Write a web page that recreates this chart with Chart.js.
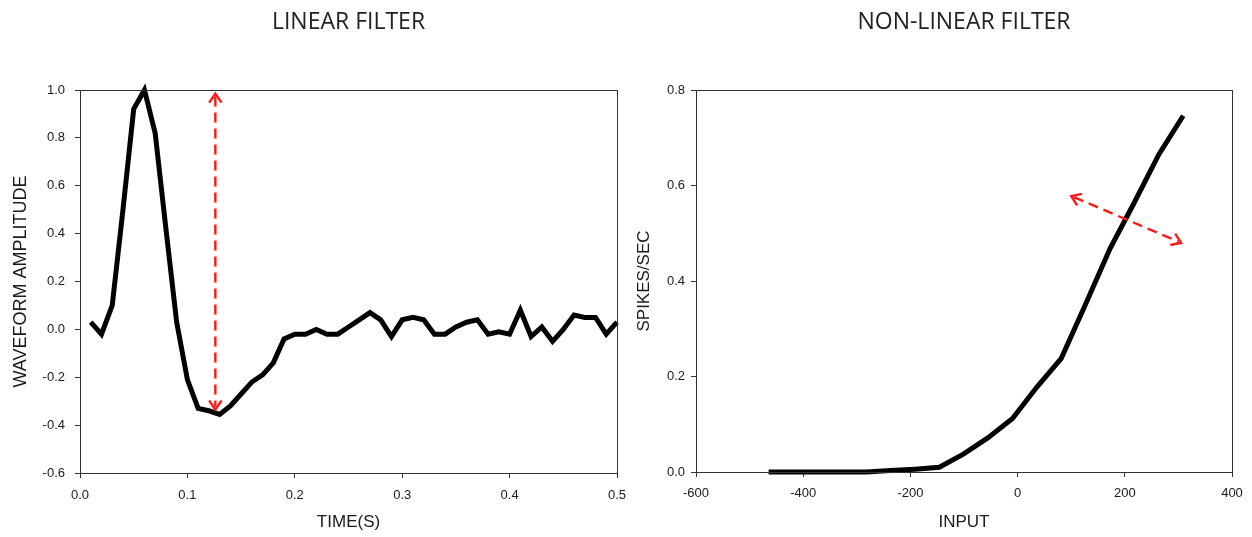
<!DOCTYPE html>
<html>
<head>
<meta charset="utf-8">
<script src="https://cdn.jsdelivr.net/npm/chart.js@4.4.1/dist/chart.umd.min.js"></script>
<style>
  html, body { margin: 0; padding: 0; background: #fff; }
  #wrap { position: relative; width: 1252px; height: 537px; overflow: hidden; }
  canvas { position: absolute; top: 0; }
</style>
</head>
<body>
<div id="wrap">
  <canvas id="linear" width="640" height="537" style="left:0"></canvas>
  <canvas id="nonlinear" width="626" height="537" style="left:626px"></canvas>
</div>
<script>
// linear filter: waveform amplitude vs time (s)
var timeS = [0.01, 0.02, 0.03, 0.04, 0.05, 0.06, 0.07, 0.08, 0.09, 0.10,
             0.11, 0.12, 0.13, 0.14, 0.15, 0.16, 0.17, 0.18, 0.19, 0.20,
             0.21, 0.22, 0.23, 0.24, 0.25, 0.26, 0.27, 0.28, 0.29, 0.30,
             0.31, 0.32, 0.33, 0.34, 0.35, 0.36, 0.37, 0.38, 0.39, 0.40,
             0.41, 0.42, 0.43, 0.44, 0.45, 0.46, 0.47, 0.48, 0.49, 0.50];
var amplitude = [0.03, -0.02, 0.10, 0.50, 0.92, 1.00, 0.82, 0.42, 0.03, -0.21,
                 -0.33, -0.34, -0.355, -0.32, -0.27, -0.22, -0.19, -0.14, -0.04, -0.02,
                 -0.02, 0.00, -0.02, -0.02, 0.01, 0.04, 0.07, 0.04, -0.03, 0.04,
                 0.05, 0.04, -0.02, -0.02, 0.01, 0.03, 0.04, -0.02, -0.01, -0.02,
                 0.08, -0.03, 0.01, -0.05, 0.00, 0.06, 0.05, 0.05, -0.02, 0.03];
var timeTicks = [0, 0.1, 0.2, 0.3, 0.4, 0.5];
var ampTicks = [-0.6, -0.4, -0.2, 0, 0.2, 0.4, 0.6, 0.8, 1.0];
var ampArrow = [[0.126, 0.985], [0.126, -0.335]];

// non-linear filter: spikes/sec vs input
var inputVals = [-464.5, -419, -373.5, -328, -282.5, -237, -191.5, -146, -100.5,
                 -55, -9.5, 36, 81.5, 127, 172.5, 218, 263.5, 309];
var spikeRate = [0.0, 0.0, 0.0, 0.0, 0.0, 0.003, 0.006, 0.01, 0.038,
                 0.072, 0.112, 0.178, 0.238, 0.352, 0.468, 0.565, 0.665, 0.746];
var inputTicks = [-600, -400, -200, 0, 200, 400];
var rateTicks = [0, 0.2, 0.4, 0.6, 0.8];
var rateArrow = [[100, 0.578], [305, 0.48]];

var tickFont = { family: 'Liberation Sans, Arial, sans-serif', size: 13 };
var titleFont = { family: 'Open Sans, sans-serif', size: 23, weight: 'normal' };

function points(xs, ys) {
    return xs.map(function (x, i) { return { x: x, y: ys[i] }; });
}

var frame = {
    id: 'frame',
    afterDraw: function (chart) {
        var a = chart.chartArea, ctx = chart.ctx;
        ctx.save();
        ctx.strokeStyle = '#333';
        ctx.lineWidth = 1;
        ctx.strokeRect(a.left + 0.5, a.top + 0.5, a.right - a.left, a.bottom - a.top);
        ctx.restore();
    }
};

function head(ctx, x, y, ang) {
    var len = 11, spread = 0.6;
    ctx.beginPath();
    ctx.moveTo(x - len * Math.cos(ang - spread), y - len * Math.sin(ang - spread));
    ctx.lineTo(x, y);
    ctx.lineTo(x - len * Math.cos(ang + spread), y - len * Math.sin(ang + spread));
    ctx.stroke();
}

var arrow = {
    id: 'arrow',
    afterDatasetsDraw: function (chart, args, opts) {
        var sx = chart.scales.x, sy = chart.scales.y, ctx = chart.ctx;
        var x1 = sx.getPixelForValue(opts.from[0]), y1 = sy.getPixelForValue(opts.from[1]);
        var x2 = sx.getPixelForValue(opts.to[0]), y2 = sy.getPixelForValue(opts.to[1]);
        var ang = Math.atan2(y2 - y1, x2 - x1);
        ctx.save();
        ctx.strokeStyle = '#ff1a1a';
        ctx.lineWidth = 2.4;
        ctx.setLineDash([10, 6]);
        ctx.beginPath();
        ctx.moveTo(x1 + 3 * Math.cos(ang), y1 + 3 * Math.sin(ang));
        ctx.lineTo(x2 - 3 * Math.cos(ang), y2 - 3 * Math.sin(ang));
        ctx.stroke();
        ctx.setLineDash([]);
        head(ctx, x2, y2, ang);
        head(ctx, x1, y1, ang + Math.PI);
        ctx.restore();
    }
};

function axis(ticks, min, max, fmt, title, titleSize, fit, tickPad, titlePad) {
    return {
        type: 'linear',
        min: min,
        max: max,
        afterBuildTicks: function (s) { s.ticks = ticks.map(function (v) { return { value: v }; }); },
        afterFit: fit,
        grid: { drawOnChartArea: false, drawTicks: true, tickLength: 5, color: '#333' },
        border: { color: '#333', width: 1 },
        ticks: { font: tickFont, color: '#1a1a1a', autoSkip: false, maxRotation: 0,
                 padding: tickPad, callback: fmt },
        title: { display: true, text: title, color: '#1a1a1a', padding: titlePad,
                 font: { family: 'Liberation Sans, Arial, sans-serif', size: titleSize } }
    };
}

function makeChart(id, cfg) {
    return new Chart(document.getElementById(id), {
        type: 'line',
        data: {
            datasets: [{
                data: points(cfg.xs, cfg.ys),
                borderColor: '#000',
                borderWidth: 5,
                pointRadius: 0,
                tension: 0,
                clip: false,
                borderJoinStyle: 'miter'
            }]
        },
        options: {
            responsive: false,
            devicePixelRatio: 1,
            animation: false,
            events: [],
            layout: { padding: { left: 0, right: cfg.padRight, top: 0, bottom: 0 } },
            plugins: {
                legend: { display: false },
                tooltip: { enabled: false },
                title: { display: true, text: cfg.title, font: titleFont, color: '#222',
                         fullSize: false, padding: { top: 8.5, bottom: 53.9 } },
                arrow: { from: cfg.arrow[0], to: cfg.arrow[1] }
            },
            scales: {
                x: cfg.x,
                y: cfg.y
            }
        },
        plugins: [frame, arrow]
    });
}

function fmt1(v) { return v.toFixed(1); }
function fmt0(v) { return String(v); }

makeChart('linear', {
    xs: timeS, ys: amplitude, title: 'LINEAR FILTER', padRight: 23, arrow: ampArrow,
    x: axis(timeTicks, 0, 0.5, fmt1, 'TIME(S)', 17,
            function (s) { s.height = 64; }, 10, { top: 0, bottom: 4 }),
    y: axis(ampTicks, -0.6, 1.0, fmt1, 'WAVEFORM AMPLITUDE', 18,
            function (s) { s.width = 80; }, 10, { top: 10, bottom: 0 })
});
makeChart('nonlinear', {
    xs: inputVals, ys: spikeRate, title: 'NON-LINEAR FILTER', padRight: 20, arrow: rateArrow,
    x: axis(inputTicks, -600, 400, fmt0, 'INPUT', 17,
            function (s) { s.height = 65; }, 9, { top: 0, bottom: 4 }),
    y: axis(rateTicks, 0, 0.8, fmt1, 'SPIKES/SEC', 17,
            function (s) { s.width = 70; }, 6, { top: 8, bottom: 0 })
});
</script>
</body>
</html>
